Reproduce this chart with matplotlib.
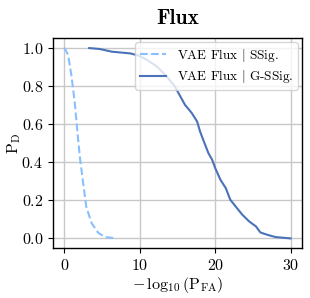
import numpy as np
import matplotlib
matplotlib.use('Agg')
import matplotlib.pyplot as plt

# -log10(P_FA) vs P_D
ssig_x = [0.0, 0.5, 0.93, 1.37, 1.8, 2.1, 2.5, 2.9, 3.6, 4.5, 5.4, 6.5]
ssig_y = [1.0, 0.962, 0.857, 0.717, 0.53, 0.412, 0.29, 0.168, 0.081, 0.029, 0.007, 0.002]

gssig_x = [3.3, 4.7, 6.3, 8.75, 9.9, 11.0, 12.3, 13.4, 14.6, 15.3, 16.0, 16.9, 17.6,
           18.0, 18.5, 19.1, 19.6, 20.0, 20.7, 21.4, 22.0, 22.7, 23.6, 24.5, 25.4,
           26.0, 26.9, 28.0, 30.0]
gssig_y = [0.998, 0.993, 0.979, 0.97, 0.958, 0.935, 0.90, 0.856, 0.80, 0.75, 0.70,
           0.657, 0.613, 0.56, 0.508, 0.447, 0.412, 0.369, 0.307, 0.264, 0.203,
           0.168, 0.124, 0.089, 0.063, 0.031, 0.019, 0.007, 0.0]

labels = [r'VAE Flux $|$ SSig.', r'VAE Flux $|$ G-SSig.']
colors = ['#88c0ff', '#4a72b8']

plt.rcParams['font.family'] = 'cmr10'
plt.rcParams['mathtext.fontset'] = 'cm'
plt.rcParams['axes.formatter.use_mathtext'] = True

fig = plt.figure(figsize=(3.1, 2.98), dpi=100)
ax = fig.add_axes([0.171, 0.168, 0.803, 0.704])
ax.plot(ssig_x, ssig_y, '--', color=colors[0], lw=1.5, label=labels[0])
ax.plot(gssig_x, gssig_y, '-', color=colors[1], lw=1.5, label=labels[1])
ax.set_xlim(-1.5, 31.5)
ax.set_ylim(-0.05, 1.05)
ax.set_xticks([0, 10, 20, 30])
ax.set_yticks([0.0, 0.2, 0.4, 0.6, 0.8, 1.0])
ax.grid(color='#c8c8c8', lw=1)
ax.set_axisbelow(True)
ax.tick_params(labelsize=11.5, length=3.5, width=0.8)
for s in ax.spines.values():
    s.set_linewidth(1.0)
ax.set_xlabel(r'$-\,\log_{10}(\mathrm{P}_{\mathrm{FA}})$', fontsize=11.5, labelpad=2)
ax.set_ylabel(r'$\mathrm{P}_{\mathrm{D}}$', fontsize=11.5)
ax.yaxis.set_label_coords(-0.12, 0.5)
ax.set_title('Flux', fontsize=15.5, fontfamily='cmb10', pad=10)
ax.legend(loc='upper right', fontsize=9.5, framealpha=0.8, borderaxespad=0.3,
          handlelength=2.0, labelspacing=0.35, borderpad=0.35)
fig.savefig('out.png', dpi=100)
